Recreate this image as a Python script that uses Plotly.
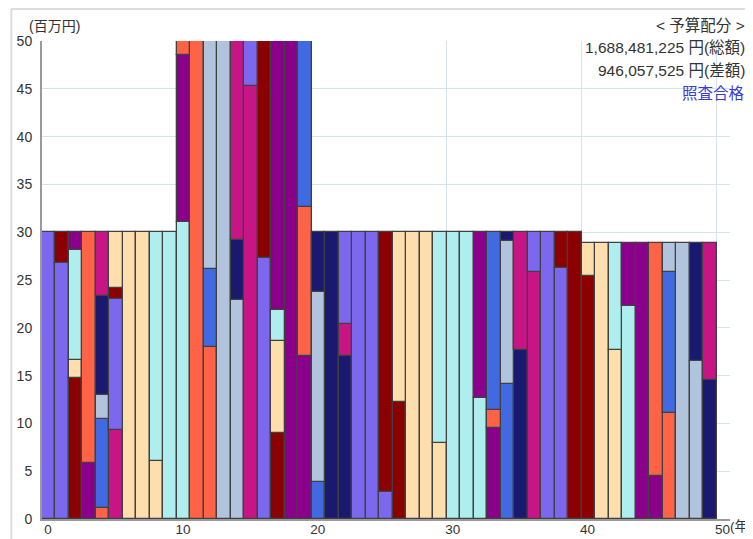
import plotly.graph_objects as go

# ---- data -------------------------------------------------------------
years = list(range(50))

# colour codes used in the chart
SB = "#7B68EE"  # mediumslateblue
DR = "#8B0000"  # darkred
DM = "#8B008B"  # darkmagenta
PT = "#AFEEEE"  # paleturquoise
MO = "#FFDEAD"  # navajowhite
TO = "#FF6347"  # tomato
MV = "#C71585"  # mediumvioletred
MN = "#191970"  # midnightblue
LS = "#B0C4DE"  # lightsteelblue
RB = "#4169E1"  # royalblue

# per-year segments, bottom to top: colours and cumulative tops (百万円)
seg_colors = [
    [SB], [SB, DR], [DR, MO, PT, DM], [DM, TO], [TO, RB, LS, MN, MV],
    [MV, SB, DR, MO], [MO], [MO], [MO, PT], [PT],
    [PT, DM, TO], [TO], [TO, RB, LS], [LS], [LS, MN, MV],
    [MV, SB], [SB, DR], [DR, MO, PT, DM], [DM], [DM, TO, RB],
    [RB, LS, MN], [MN], [MN, MV, SB], [SB], [SB],
    [SB, DR], [DR, MO], [MO], [MO], [MO, PT],
    [PT], [PT], [PT, DM], [DM, TO, RB], [RB, LS, MN],
    [MN, MV], [MV, SB], [SB], [SB, DR], [DR],
    [DR, MO], [MO], [MO, PT], [PT, DM], [DM],
    [DM, TO], [TO, RB, LS], [LS], [LS, MN], [MN, MV],
]
seg_tops = [
    [30], [26.8, 30], [14.75, 16.6, 28.1, 30], [5.9, 30], [1.2, 10.5, 13.0, 23.3, 30],
    [9.3, 23.0, 24.2, 30], [30], [30], [6.1, 30], [30],
    [31.1, 48.5, 50], [50], [17.95, 26.2, 50], [50], [22.9, 29.2, 50],
    [45.3, 50], [27.25, 50], [8.95, 18.6, 21.9, 50], [50], [17.1, 32.6, 50],
    [3.9, 23.7, 30], [30], [17.1, 20.4, 30], [30], [30],
    [2.8, 30], [12.25, 30], [30], [30], [7.95, 30],
    [30], [30], [12.65, 30], [9.5, 11.4, 30], [14.15, 29.1, 30],
    [17.7, 30], [25.8, 30], [30], [26.25, 30], [30],
    [25.45, 28.85], [28.85], [17.7, 28.85], [22.25, 28.85], [28.85],
    [4.55, 28.85], [11.1, 25.8, 28.85], [28.85], [16.5, 28.85], [14.5, 28.85],
]

x_ticks = [0, 10, 20, 30, 40, 50]
y_ticks = [0, 5, 10, 15, 20, 25, 30, 35, 40, 45, 50]

header_lines = ["< 予算配分 >", "1,688,481,225 円(総額)", "946,057,525 円(差額)"]
status_text = "照査合格"

# ---- layout constants ---------------------------------------------------
OFF = 8                      # page body margin
W, H = 753 - OFF, 539 - OFF  # figure size
ML, MR, MT, MB = 33.7, 23, 33, 19.5
PW, PH = W - ML - MR, H - MT - MB


def px_x(p):
    """window pixel -> paper x"""
    return (p - OFF - ML) / PW


def px_y(p):
    """window pixel -> paper y"""
    return (H - MB - (p - OFF)) / PH


FONT = "Liberation Sans, Arial, Noto Sans CJK JP, sans-serif"

# ---- traces (one per stack level) --------------------------------------
fig = go.Figure()
max_levels = max(len(s) for s in seg_tops)
for lvl in range(max_levels):
    xs, bases, heights, cols = [], [], [], []
    for yr, tops, colors in zip(years, seg_tops, seg_colors):
        if lvl < len(tops):
            base = tops[lvl - 1] if lvl > 0 else 0
            xs.append(yr)
            bases.append(base)
            heights.append(tops[lvl] - base)
            cols.append(colors[lvl])
    fig.add_trace(go.Bar(
        x=xs, y=heights, base=bases, width=1, offset=0,
        marker=dict(color=cols, line=dict(color="#404040", width=1.3)),
        showlegend=False, hoverinfo="skip",
    ))

fig.update_layout(
    width=W, height=H, autosize=False,
    margin=dict(l=ML, r=MR, t=MT, b=MB, pad=0, autoexpand=False),
    paper_bgcolor="white", plot_bgcolor="white",
    barmode="overlay", bargap=0,
    font=dict(family=FONT, size=14, color="#333333"),
    xaxis=dict(
        range=[0, 51], tickvals=x_ticks, showgrid=True, gridcolor="#d3e4ee",
        gridwidth=1, zeroline=False, showline=True, linecolor="#9a9a9a",
        linewidth=2, ticks="", ticklabelshift=6, ticklabelstandoff=-3,
        automargin=False, tickfont=dict(size=13.5, color="#333333"),
    ),
    yaxis=dict(
        range=[0, 50], tickvals=y_ticks, showgrid=True, gridcolor="#d3e4ee",
        gridwidth=1, zeroline=False, showline=True, linecolor="#9a9a9a",
        linewidth=2, ticks="", ticklabelstandoff=5,
        automargin=False, tickfont=dict(size=14, color="#333333"),
    ),
)

# outer frame (top and left edges visible)
fig.add_shape(type="line", xref="paper", yref="paper",
              x0=px_x(11), x1=px_x(780), y0=px_y(9), y1=px_y(9),
              line=dict(color="#dddddd", width=2))
fig.add_shape(type="line", xref="paper", yref="paper",
              x0=px_x(11), x1=px_x(11), y0=px_y(9), y1=px_y(560),
              line=dict(color="#dddddd", width=2))

annos = [
    dict(text="(百万円)", x=px_x(27), y=px_y(26), xanchor="left", yanchor="middle",
         font=dict(size=14, color="#333333")),
    dict(text="(年)", x=px_x(728), y=px_y(527), xanchor="left", yanchor="middle",
         font=dict(size=13.5, color="#333333")),
]
for i, line in enumerate(header_lines):
    annos.append(dict(text=line, x=px_x(747), y=px_y(25 + 23 * i),
                      xanchor="right", yanchor="middle",
                      font=dict(size=15.5, color="#333333")))
annos.append(dict(text=status_text, x=px_x(747), y=px_y(25 + 23 * 3),
                  xanchor="right", yanchor="middle",
                  font=dict(size=15.5, color="#3a3ad8")))
for a in annos:
    a.update(xref="paper", yref="paper", showarrow=False)
fig.update_layout(annotations=annos)

fig.write_html("out.html")
